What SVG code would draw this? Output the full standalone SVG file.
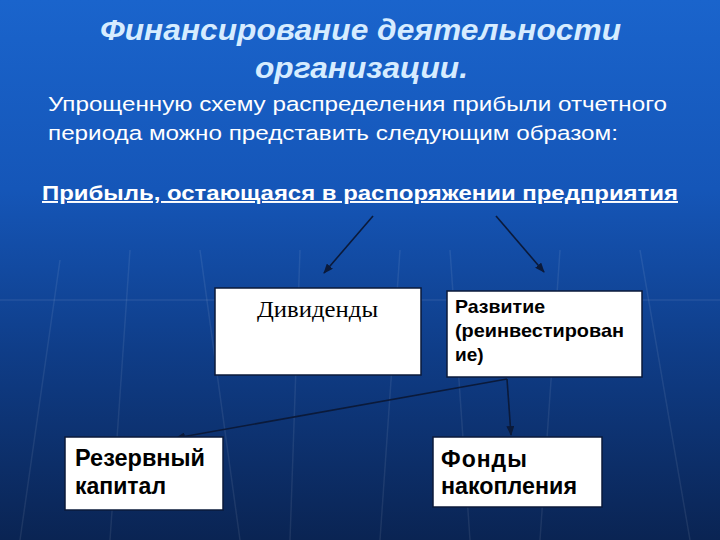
<svg xmlns="http://www.w3.org/2000/svg" width="720" height="540" viewBox="0 0 720 540">
<defs>
<linearGradient id="bg" x1="0" y1="0" x2="0" y2="1">
<stop offset="0" stop-color="#1a64cc"/>
<stop offset="0.35" stop-color="#1556b8"/>
<stop offset="0.65" stop-color="#0f3d88"/>
<stop offset="1" stop-color="#0a2453"/>
</linearGradient>
<marker id="ah" markerWidth="10" markerHeight="8" refX="9" refY="4" orient="auto" markerUnits="userSpaceOnUse">
<path d="M0,0 L10,4 L0,8 Z" fill="#0b1a3a"/>
</marker>
<style>
.box{fill:#ffffff;stroke:#0b1a3a;stroke-width:1.5}
.conn{stroke:#0b1a3a;stroke-width:1.6;fill:none}
.sans{font-family:"Liberation Sans",Arial,sans-serif}
.bt{font-family:"Liberation Sans",Arial,sans-serif;font-weight:bold;fill:#000}
.deco{stroke:#ffffff;stroke-opacity:0.08;stroke-width:1.5;fill:none}
</style>
</defs>
<rect width="720" height="540" fill="url(#bg)"/>
<g class="deco">
<path d="M60,260 L20,540"/><path d="M130,250 L110,540"/><path d="M200,250 L240,540"/>
<path d="M300,250 L290,540"/><path d="M400,250 L380,540"/><path d="M450,250 L470,540"/>
<path d="M560,250 L540,540"/><path d="M640,250 L690,540"/><path d="M0,300 L720,300"/>
</g>
<g id="title">
<text x="100" y="40" class="sans" font-size="30" font-weight="bold" font-style="italic" fill="#d6ecff" textLength="521" lengthAdjust="spacingAndGlyphs">Финансирование деятельности</text>
<text x="255" y="78" class="sans" font-size="30" font-weight="bold" font-style="italic" fill="#d6ecff" textLength="213" lengthAdjust="spacingAndGlyphs">организации.</text>
</g>
<g id="intro">
<text x="48" y="111" class="sans" font-size="20.5" fill="#ffffff" textLength="619" lengthAdjust="spacingAndGlyphs">Упрощенную схему распределения прибыли отчетного</text>
<text x="48" y="140" class="sans" font-size="20.5" fill="#ffffff" textLength="570" lengthAdjust="spacingAndGlyphs">периода можно представить следующим образом:</text>
</g>
<g id="profit">
<text x="42" y="200" class="sans" font-size="19.5" font-weight="bold" fill="#ffffff" text-decoration="underline" textLength="636" lengthAdjust="spacingAndGlyphs">Прибыль, остающаяся в распоряжении предприятия</text>
</g>
<g id="connectors">
<line class="conn" x1="373" y1="216" x2="324" y2="273" marker-end="url(#ah)"/>
<line class="conn" x1="496" y1="216" x2="544" y2="272" marker-end="url(#ah)"/>
<line class="conn" x1="507" y1="379" x2="176" y2="438" marker-end="url(#ah)"/>
<line class="conn" x1="507" y1="379" x2="511" y2="435" marker-end="url(#ah)"/>
</g>
<g id="dividends">
<rect class="box" x="215" y="288" width="206" height="87"/>
<text x="257" y="317" font-family="'Liberation Serif','Times New Roman',serif" font-size="24" fill="#000" textLength="121" lengthAdjust="spacingAndGlyphs">Дивиденды</text>
</g>
<g id="development">
<rect class="box" x="447" y="291" width="195" height="86"/>
<text x="455" y="313" class="bt" font-size="19" textLength="90" lengthAdjust="spacingAndGlyphs">Развитие</text>
<text x="455" y="337" class="bt" font-size="19" textLength="169" lengthAdjust="spacingAndGlyphs">(реинвестирован</text>
<text x="455" y="361" class="bt" font-size="19">ие)</text>
</g>
<g id="reserve">
<rect class="box" x="65" y="437" width="158" height="73"/>
<text x="75" y="466" class="bt" font-size="23" textLength="130" lengthAdjust="spacingAndGlyphs">Резервный</text>
<text x="75" y="494" class="bt" font-size="23">капитал</text>
</g>
<g id="funds">
<rect class="box" x="433" y="437" width="169" height="70"/>
<text x="441" y="467" class="bt" font-size="23" letter-spacing="1">Фонды</text>
<text x="441" y="494" class="bt" font-size="23" textLength="136" lengthAdjust="spacingAndGlyphs">накопления</text>
</g>
</svg>
